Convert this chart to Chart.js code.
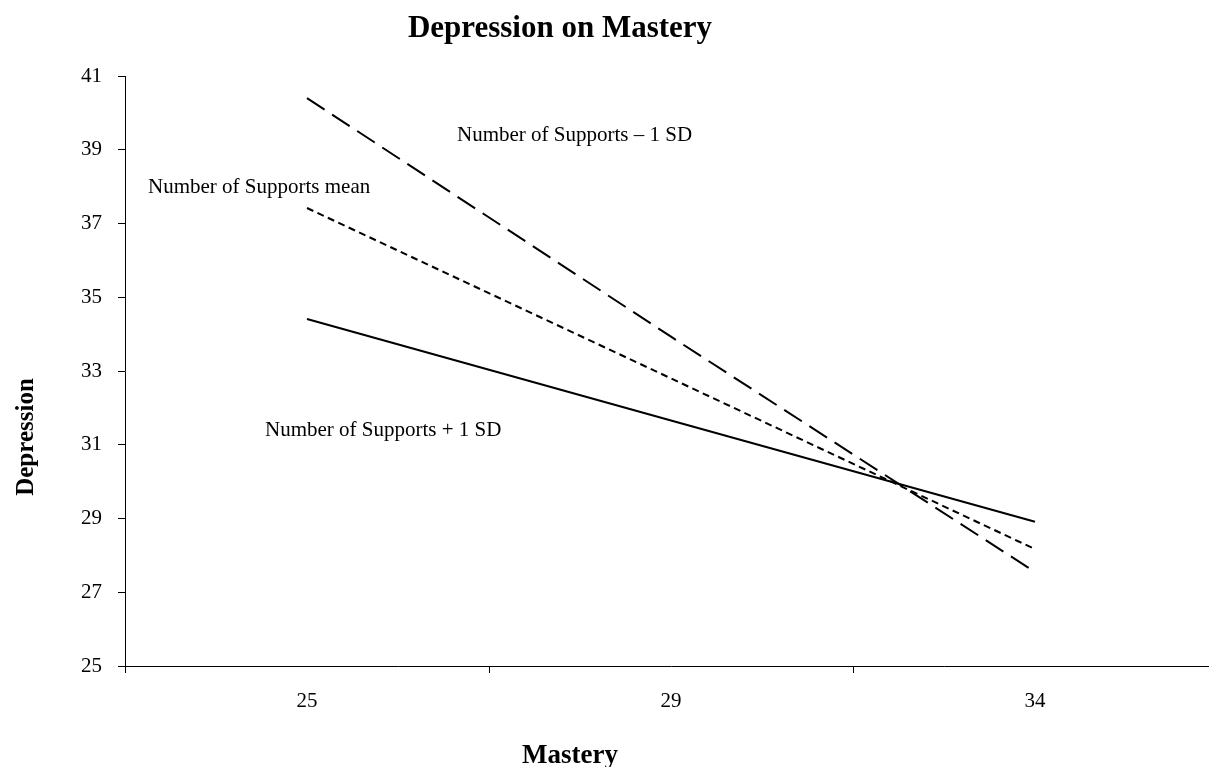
<!DOCTYPE html>
<html>
<head>
<meta charset="utf-8">
<script src="https://cdn.jsdelivr.net/npm/chart.js@4.4.0/dist/chart.umd.min.js"></script>
<style>
    html, body { margin: 0; padding: 0; background: #fff; overflow: hidden; }
    #wrap { width: 1217px; height: 767px; }
</style>
</head>
<body>
<div id="wrap"><canvas id="chart" width="1217" height="767"></canvas></div>
<script>
// Data
const masteryLabels = ['25', '29', '34'];
const minusOneSD = [40.40, 33.93, 27.55];
const meanSupports = [37.42, 32.80, 28.17];
const plusOneSD = [34.41, 31.66, 28.91];
const yTicks = [25, 27, 29, 31, 33, 35, 37, 39, 41];

const serif = '"Liberation Serif", "Times New Roman", serif';

// Title, axis titles and line labels
const textPlugin = {
    id: 'textPlugin',
    afterDraw(chart) {
        const ctx = chart.ctx;
        ctx.save();
        ctx.fillStyle = '#000';
        ctx.textBaseline = 'alphabetic';
        ctx.textAlign = 'center';

        ctx.font = 'bold 31px ' + serif;
        ctx.fillText('Depression on Mastery', 560, 37);

        ctx.font = 'bold 27px ' + serif;
        ctx.fillText('Mastery', 570, 763);

        ctx.save();
        ctx.font = 'bold 25px ' + serif;
        ctx.translate(33, 437);
        ctx.rotate(-Math.PI / 2);
        ctx.fillText('Depression', 0, 0);
        ctx.restore();

        ctx.font = '21px ' + serif;
        ctx.textAlign = 'left';
        ctx.fillText('Number of Supports \u2013 1 SD', 457, 141);
        ctx.fillText('Number of Supports mean', 148, 193);
        ctx.fillText('Number of Supports + 1 SD', 265, 436);
        ctx.restore();
    }
};

function makeLine(label, data, dash) {
    return {
        label: label,
        data: data,
        borderColor: '#000',
        borderWidth: 2,
        borderDash: dash,
        pointRadius: 0,
        tension: 0,
        fill: false
    };
}

new Chart(document.getElementById('chart').getContext('2d'), {
    type: 'line',
    data: {
        labels: masteryLabels,
        datasets: [
            makeLine('Number of Supports - 1 SD', minusOneSD, [21, 9]),
            makeLine('Number of Supports mean', meanSupports, [7, 4.5]),
            makeLine('Number of Supports + 1 SD', plusOneSD, [])
        ]
    },
    options: {
        responsive: false,
        animation: false,
        layout: { padding: { top: 76, left: 0, right: 0, bottom: 0 } },
        plugins: {
            legend: { display: false },
            title: { display: false },
            tooltip: { enabled: false }
        },
        scales: {
            x: {
                offset: true,
                grid: {
                    display: true,
                    offset: true,
                    drawOnChartArea: false,
                    drawTicks: true,
                    tickLength: 7,
                    color: '#000'
                },
                border: { display: true, color: '#000', width: 1 },
                ticks: {
                    color: '#000',
                    padding: 16,
                    font: { family: serif, size: 21 }
                },
                afterFit(scale) { scale.height = 101; }
            },
            y: {
                min: 25,
                max: 41,
                afterBuildTicks(scale) {
                    scale.ticks = yTicks.map(v => ({ value: v }));
                },
                grid: {
                    display: true,
                    drawOnChartArea: false,
                    drawTicks: true,
                    tickLength: 7,
                    color: '#000'
                },
                border: { display: true, color: '#000', width: 1 },
                ticks: {
                    color: '#000',
                    padding: 16,
                    font: { family: serif, size: 21 }
                },
                afterFit(scale) { scale.width = 125; }
            }
        }
    },
    plugins: [textPlugin]
});
</script>
</body>
</html>
